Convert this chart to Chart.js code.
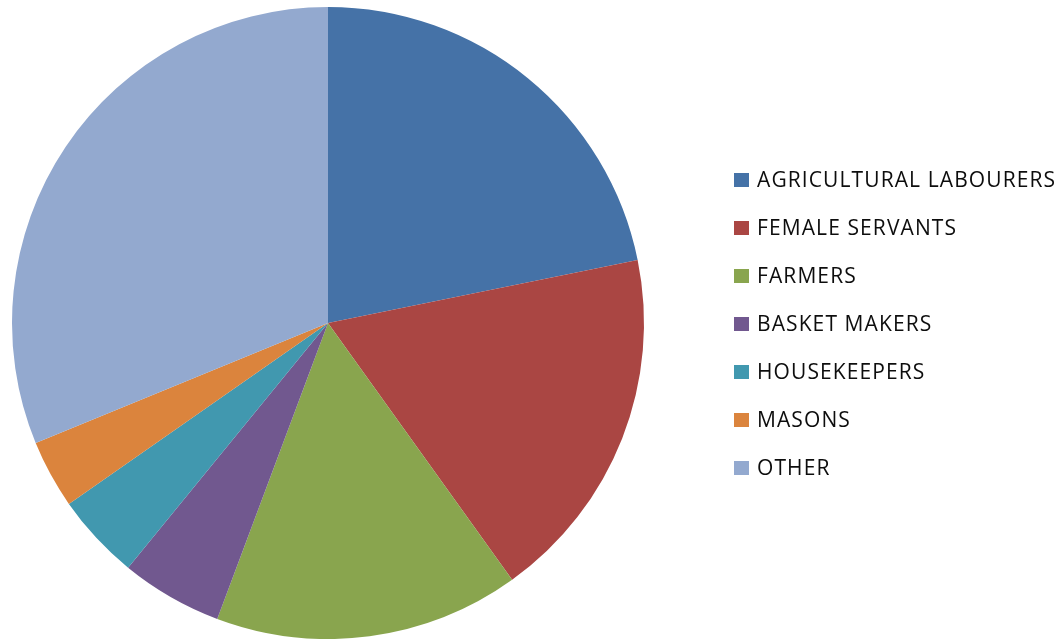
<!DOCTYPE html>
<html>
<head>
<meta charset="utf-8">
<script src="https://cdn.jsdelivr.net/npm/chart.js@4"></script>
<style>
  html, body { margin: 0; padding: 0; background: #ffffff; }
  #wrap { width: 1063px; height: 639px; position: relative; }
</style>
</head>
<body>
<div id="wrap"><canvas id="c" width="1063" height="639"></canvas></div>
<script>
// Occupations (share of total, %)
const categories = [
  'AGRICULTURAL LABOURERS',
  'FEMALE SERVANTS',
  'FARMERS',
  'BASKET MAKERS',
  'HOUSEKEEPERS',
  'MASONS',
  'OTHER'
];
const shares = [21.8, 18.3, 15.6, 5.2, 4.4, 3.5, 31.2];
const sliceColors = ['#4572A7', '#AA4643', '#89A54E', '#71588F', '#4198AF', '#DB843D', '#93A9CF'];

// Legend drawn to the right of the pie: square marker + label per category
const sideLegend = {
  id: 'sideLegend',
  afterDraw(chart) {
    const ctx = chart.ctx;
    const labels = chart.data.labels;
    const colors = chart.data.datasets[0].backgroundColor;
    const x0 = 734, y0 = 180, step = 48, box = 14;
    ctx.save();
    ctx.font = '21px "Open Sans", sans-serif';
    if ('letterSpacing' in ctx) ctx.letterSpacing = '1.1px';
    ctx.textBaseline = 'middle';
    ctx.textAlign = 'left';
    labels.forEach((lab, i) => {
      const y = y0 + i * step;
      ctx.fillStyle = colors[i];
      ctx.fillRect(x0, y - box / 2, box + 1, box);
      ctx.fillStyle = '#0d0d0d';
      ctx.fillText(lab, 757, y + 1);
    });
    ctx.restore();
  }
};

new Chart(document.getElementById('c'), {
  type: 'pie',
  data: {
    labels: categories,
    datasets: [{
      data: shares,
      backgroundColor: sliceColors,
      borderWidth: 0,
      hoverOffset: 0
    }]
  },
  options: {
    responsive: false,
    animation: false,
    layout: { padding: { left: 11, right: 418, top: 7, bottom: -1 } },
    plugins: {
      legend: { display: false },
      tooltip: { enabled: false }
    }
  },
  plugins: [sideLegend]
});
</script>
</body>
</html>
